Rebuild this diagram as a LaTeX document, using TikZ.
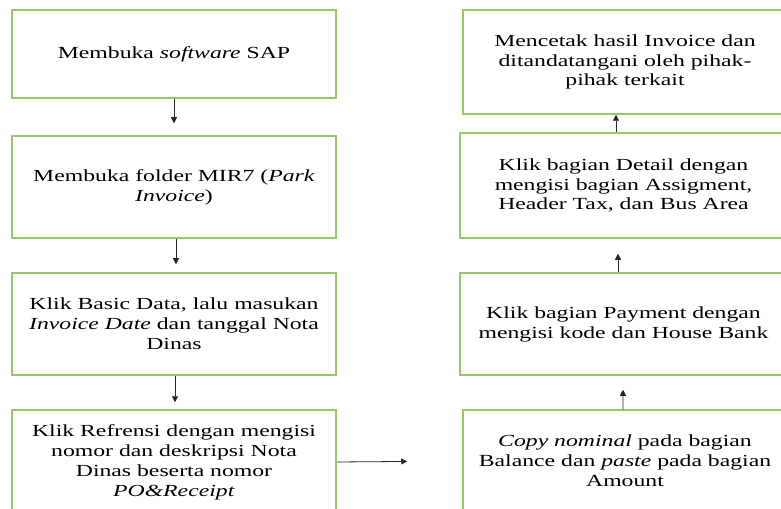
\documentclass[tikz,border=0pt]{standalone}
\usepackage{fontspec}
\setmainfont{Liberation Serif}[FakeStretch=1.4]
\usetikzlibrary{arrows.meta}
\definecolor{boxgreen}{RGB}{150,200,110}
\tikzset{
  stepbox/.style={draw=boxgreen, line width=1.5bp, rectangle, inner sep=0pt,
    align=center, font=\fontsize{17}{20}\selectfont},
  arr/.style={draw=black!85, line width=0.8bp,
    -{Triangle[length=6bp,width=6bp]}}
}
\begin{document}
\begin{tikzpicture}[x=1bp,y=-1bp]
\useasboundingbox (0,0) rectangle (781,509);
\clip (0,0) rectangle (781,509);
% left column
\node[stepbox, minimum width=324bp, minimum height=88bp] (b1) at (174,54)
  {Membuka \textit{software} SAP};
\node[stepbox, minimum width=324bp, minimum height=102bp] (b2) at (174,187)
  {Membuka folder MIR7 (\textit{Park}\\\textit{Invoice})};
\node[stepbox, minimum width=324bp, minimum height=102bp] (b3) at (174,324)
  {Klik Basic Data, lalu masukan\\\textit{Invoice Date} dan tanggal Nota\\Dinas};
\node[stepbox, minimum width=324bp, minimum height=104bp] (b4) at (174,462)
  {Klik Refrensi dengan mengisi\\nomor dan deskripsi Nota\\Dinas beserta nomor\\\textit{PO\&Receipt}};
% right column
\node[stepbox, minimum width=324bp, minimum height=102bp] (r4) at (625,461)
  {\textit{Copy nominal} pada bagian\\Balance dan \textit{paste} pada bagian\\Amount};
\node[stepbox, minimum width=327bp, minimum height=102bp] (r3) at (623.5,324)
  {Klik bagian Payment dengan\\mengisi kode dan House Bank};
\node[stepbox, minimum width=327bp, minimum height=105bp] (r2) at (623.5,185.5)
  {Klik bagian Detail dengan\\mengisi bagian Assigment,\\Header Tax, dan Bus Area};
\node[stepbox, minimum width=324bp, minimum height=104bp] (r1) at (625,62)
  {Mencetak hasil Invoice dan\\ditandatangani oleh pihak-\\pihak terkait};
% connectors
\draw[arr, shorten >=12bp] (b1.south) -- (b2.north);
\draw[arr, shorten >=8bp] ([xshift=2bp]b2.south) -- ([xshift=2bp]b3.north);
\draw[arr, shorten >=7bp] ([xshift=1bp]b3.south) -- ([xshift=1bp]b4.north);
\draw[arr, shorten >=55bp] (b4.east) -- (r4.west);
\draw[arr, shorten >=14bp] ([xshift=-2bp]r4.north) -- ([xshift=-0.5bp]r3.south);
\draw[arr, shorten >=15bp] ([xshift=-5.5bp]r3.north) -- ([xshift=-5.5bp]r2.south);
\draw[arr] ([xshift=-7.5bp]r2.north) -- ([xshift=-9bp]r1.south);
\end{tikzpicture}
\end{document}
